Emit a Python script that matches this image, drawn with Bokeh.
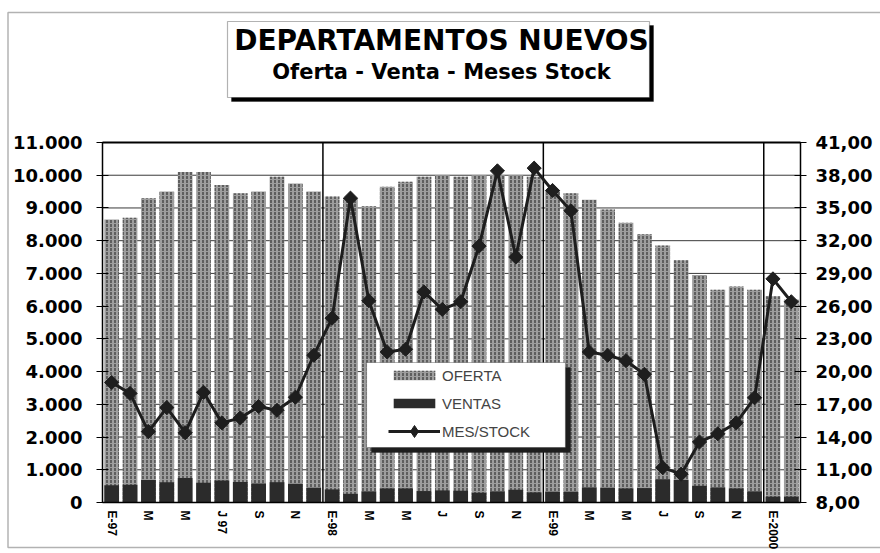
from bokeh.plotting import figure
from bokeh.models import (ColumnDataSource, Range1d, LinearAxis, FixedTicker,
                          Legend, LegendItem, BoxAnnotation, Label)
from bokeh.embed import file_html
from bokeh.resources import INLINE
import math

# ---- data ----
meses = ["E-97", "F-97", "M-97", "A-97", "M-97", "J-97", "J-97", "A-97", "S-97", "O-97", "N-97", "D-97",
         "E-98", "F-98", "M-98", "A-98", "M-98", "J-98", "J-98", "A-98", "S-98", "O-98", "N-98", "D-98",
         "E-99", "F-99", "M-99", "A-99", "M-99", "J-99", "J-99", "A-99", "S-99", "O-99", "N-99", "D-99",
         "E-2000", "F-2000"]
oferta = [8650, 8700, 9300, 9500, 10100, 10100, 9700, 9450, 9500, 9950, 9750, 9500,
          9350, 9300, 9050, 9650, 9800, 9950, 10000, 9950, 10000, 10000, 10000, 9950,
          9550, 9450, 9250, 8950, 8550, 8200, 7850, 7400, 6950, 6500, 6600, 6500,
          6300, 6200]
ventas = [530, 540, 690, 620, 750, 600, 670, 630, 580, 620, 570, 450,
          400, 265, 340, 430, 430, 350, 370, 360, 300, 340, 390, 310,
          330, 330, 460, 450, 430, 440, 710, 690, 510, 460, 430, 340,
          180, 180]
mes_stock = [19.0, 18.0, 14.5, 16.7, 14.4, 18.1, 15.3, 15.75, 16.8, 16.45, 17.65, 21.5,
             24.9, 35.9, 26.5, 21.8, 22.05, 27.3, 25.7, 26.4, 31.5, 38.4, 30.5, 38.65,
             36.6, 34.75, 21.8, 21.5, 21.0, 19.75, 11.2, 10.6, 13.55, 14.3, 15.3, 17.6,
             28.5, 26.4]
x_tick_labels = ["E-97", "M", "M", "J 97", "S", "N", "E-98", "M", "M", "J", "S", "N",
                 "E-99", "M", "M", "J", "S", "N", "E-2000"]
year_starts = [12, 24, 36]
left_ticks = list(range(0, 11001, 1000))
left_labels = ["0", "1.000", "2.000", "3.000", "4.000", "5.000", "6.000", "7.000",
               "8.000", "9.000", "10.000", "11.000"]
right_ticks = list(range(8, 42, 3))
right_labels = ["8,00", "11,00", "14,00", "17,00", "20,00", "23,00", "26,00", "29,00",
                "32,00", "35,00", "38,00", "41,00"]
title1 = "DEPARTAMENTOS NUEVOS"
title2 = "Oferta - Venta - Meses Stock"

n = len(meses)
xs = [i + 0.5 for i in range(n)]
src = ColumnDataSource(dict(x=xs, mes=meses, oferta=oferta, ventas=ventas, stock=mes_stock))

# ---- layout: the frame covers the whole canvas; the plot area is placed inside it ----
W, H = 880, 553
PL, PR, PT, PB = 102, 800, 142, 502          # plot area in canvas pixels
x0, x1 = 0, n
y0, y1 = left_ticks[0], left_ticks[-1]
s0, s1 = right_ticks[0], right_ticks[-1]
kx = (PR - PL) / (x1 - x0)
ky = (PB - PT) / (y1 - y0)
ks = (PB - PT) / (s1 - s0)

p = figure(width=W, height=H, min_border=0, output_backend="svg", toolbar_location=None,
           x_range=Range1d(x0 - PL / kx, x1 + (W - PR) / kx),
           y_range=Range1d(y0 - (H - PB) / ky, y1 + PT / ky))
p.extra_y_ranges = {"stock": Range1d(s0 - (H - PB) / ks, s1 + PT / ks)}
p.extra_x_ranges = {"hidden": Range1d(1000, 1001)}
p.background_fill_color = "white"
p.border_fill_color = "white"
p.outline_line_color = None
p.xgrid.visible = False
p.ygrid.visible = False

# grid lines inside the plot area
p.segment(x0=[x0] * (len(left_ticks) - 1), x1=[x1] * (len(left_ticks) - 1),
          y0=left_ticks[:-1], y1=left_ticks[:-1], line_color="#3a3a3a", line_width=1)
p.segment(x0=year_starts, x1=year_starts, y0=[y0] * 3, y1=[y1] * 3,
          line_color="black", line_width=1.5)
p.segment(x0=[x0], x1=[x1], y0=[y1], y1=[y1], line_color="black", line_width=2)

# bars
r_of = p.vbar(x="x", top="oferta", width=0.8, source=src, fill_color="#9e9e9e",
              line_color=None, hatch_pattern=":", hatch_color="#333333",
              hatch_scale=4, hatch_weight=1.2)
r_ve = p.vbar(x="x", top="ventas", width=0.8, source=src, fill_color="#2b2b2b",
              line_color=None)
r_ln = p.line(x="x", y="stock", source=src, y_range_name="stock", line_color="#1e1e1e",
              line_width=3)
r_mk = p.scatter(x="x", y="stock", source=src, y_range_name="stock", marker="square",
                 size=10, angle=math.pi / 4, fill_color="#1e1e1e", line_color="#1e1e1e")
# diamond used only for the legend key (points fall outside the visible range)
r_key = p.scatter(x="x", y="stock", source=src, x_range_name="hidden", y_range_name="stock",
                  marker="diamond", size=12, fill_color="#1e1e1e", line_color="#1e1e1e")

# axes (drawn at fixed positions inside the canvas)
la = p.left[0]
la.ticker = FixedTicker(ticks=left_ticks)
la.major_label_overrides = {t: s for t, s in zip(left_ticks, left_labels)}
la.fixed_location = x0
la.bounds = (y0, y1)
ra = LinearAxis(y_range_name="stock", ticker=FixedTicker(ticks=right_ticks),
                fixed_location=x1, bounds=(s0, s1))
ra.major_label_overrides = {t: s for t, s in zip(right_ticks, right_labels)}
p.add_layout(ra, "right")
for ax, so in ((la, 14), (ra, 9)):
    ax.major_label_text_font = "DejaVu Sans"
    ax.major_label_text_font_style = "bold"
    ax.major_label_text_font_size = "18px"
    ax.major_label_text_color = "black"
    ax.major_tick_in = 6
    ax.major_tick_out = 6
    ax.minor_tick_in = 0
    ax.minor_tick_out = 0
    ax.major_label_standoff = so
    ax.axis_line_color = "black"
    ax.axis_line_width = 1.5
    ax.major_tick_line_color = "black"

xa = p.below[0]
xt = [2 * i + 0.5 for i in range(len(x_tick_labels))]
xa.ticker = FixedTicker(ticks=xt)
xa.major_label_overrides = {t: s for t, s in zip(xt, x_tick_labels)}
xa.fixed_location = y0
xa.bounds = (x0, x1)
xa.major_label_orientation = "vertical"
xa.major_label_text_font = "Liberation Sans"
xa.major_label_text_font_style = "bold"
xa.major_label_text_font_size = "12px"
xa.major_label_text_color = "black"
xa.major_tick_in = 0
xa.major_tick_out = 0
xa.minor_tick_in = 0
xa.minor_tick_out = 0
xa.major_label_standoff = 8
xa.axis_line_color = "black"
xa.axis_line_width = 1.5


def box(left, right, top, bottom, **kw):
    # canvas pixel coordinates (origin top-left) -> screen units of the frame
    return BoxAnnotation(left=left, right=right, top=H - top, bottom=H - bottom,
                         left_units="screen", right_units="screen",
                         top_units="screen", bottom_units="screen", **kw)


# outer chart border
p.add_layout(box(7.5, 1000, 12, 547, fill_alpha=0, line_color="black", line_width=1.5))

# title box with shadow
p.add_layout(box(231, 653, 25, 101, fill_color="black", fill_alpha=1, line_color="black"))
p.add_layout(box(227, 649, 21, 97, fill_color="white", fill_alpha=1, line_color="black",
                 line_width=1.2))
p.add_layout(Label(x=441, y=H - 40, x_units="screen", y_units="screen", text=title1,
                   text_font="DejaVu Sans", text_font_style="bold", text_font_size="28px",
                   text_align="center", text_baseline="middle", text_color="black"))
p.add_layout(Label(x=441, y=H - 71, x_units="screen", y_units="screen", text=title2,
                   text_font="DejaVu Sans", text_font_style="bold", text_font_size="21px",
                   text_align="center", text_baseline="middle", text_color="black"))

# legend box with shadow
p.add_layout(box(371, 570, 367, 452, fill_color="#1e1e1e", fill_alpha=1, line_color="#1e1e1e"))
p.add_layout(box(366, 565, 362, 447, fill_color="white", fill_alpha=1, line_color="black",
                 line_width=1.2))
common = dict(padding=0, margin=0, spacing=10, glyph_width=52, label_height=18,
              label_standoff=2, label_text_font="Liberation Sans",
              label_text_font_size="15px", border_line_alpha=0, background_fill_alpha=0)
leg1 = Legend(items=[LegendItem(label="OFERTA", renderers=[r_of]),
                     LegendItem(label="VENTAS", renderers=[r_ve])],
              location=(388, H - 412), glyph_height=12, **common)
leg2 = Legend(items=[LegendItem(label="MES/STOCK", renderers=[r_ln, r_key])],
              location=(388, H - 446), glyph_height=30, **common)
p.add_layout(leg1, "center")
p.add_layout(leg2, "center")

open("out.html", "w").write(file_html(p, INLINE))
